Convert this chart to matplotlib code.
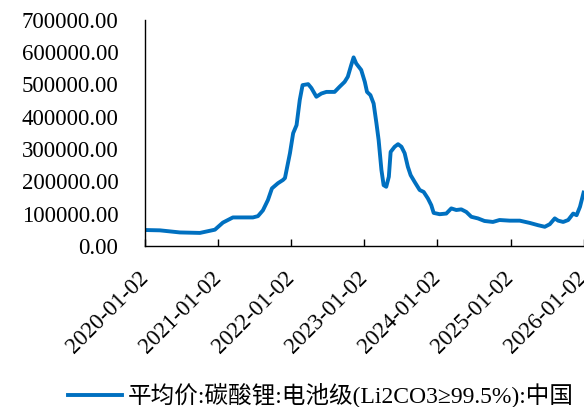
import numpy as np
import pandas as pd
import matplotlib
matplotlib.use('Agg')
import matplotlib.pyplot as plt

# price data (yuan/ton)
dates = ['2020-01-02', '2020-03-17', '2020-06-25', '2020-10-03', '2020-12-17',
         '2021-01-26', '2021-02-20', '2021-03-17', '2021-06-25', '2021-07-20',
         '2021-08-14', '2021-09-08', '2021-09-28', '2021-10-28', '2021-11-22',
         '2021-12-02', '2021-12-27', '2022-01-12', '2022-01-29', '2022-02-14',
         '2022-02-28', '2022-03-28', '2022-04-13', '2022-05-08', '2022-06-02',
         '2022-06-27', '2022-08-07', '2022-09-01', '2022-09-26', '2022-10-12',
         '2022-10-29', '2022-11-10', '2022-11-23', '2022-12-18', '2023-01-05',
         '2023-01-16', '2023-02-02', '2023-02-18', '2023-03-04', '2023-03-15',
         '2023-03-29', '2023-04-09', '2023-04-22', '2023-05-05', '2023-05-14',
         '2023-06-03', '2023-06-20', '2023-07-07', '2023-07-23', '2023-08-08',
         '2023-08-22', '2023-09-11', '2023-10-06', '2023-10-26', '2023-11-16',
         '2023-12-03', '2023-12-15', '2024-01-14', '2024-02-16', '2024-03-12',
         '2024-04-06', '2024-05-01', '2024-05-26', '2024-06-20', '2024-07-23',
         '2024-08-25', '2024-10-06', '2024-11-08', '2024-12-29', '2025-02-17',
         '2025-04-08', '2025-05-19', '2025-06-22', '2025-07-17', '2025-08-11',
         '2025-08-28', '2025-09-22', '2025-10-17', '2025-11-11', '2025-11-28',
         '2025-12-15', '2026-01-02']
prices = [49000, 48000, 41500, 40000, 50000,
          72000, 80000, 88000, 88000, 92000,
          110000, 142000, 178000, 194000, 204000,
          210000, 287000, 349000, 374000, 452000,
          498000, 501000, 489000, 462000, 472000,
          477000, 477000, 493000, 508000, 524000,
          560000, 584000, 565000, 545000, 508000,
          477000, 467000, 441000, 380000, 328000,
          235000, 188000, 183000, 214000, 291000,
          307000, 315000, 307000, 287000, 245000,
          219000, 198000, 173000, 167000, 147000,
          126000, 102000, 98000, 100000, 116000,
          111000, 113000, 105000, 90000, 85000,
          77000, 74000, 80000, 78000, 78000,
          71000, 64000, 59000, 67000, 85000,
          78000, 74000, 80000, 100000, 95000,
          121000, 165000]
tick_dates = ['2020-01-02', '2021-01-02', '2022-01-02', '2023-01-02',
              '2024-01-02', '2025-01-02', '2026-01-02']
yticks = [0, 100000, 200000, 300000, 400000, 500000, 600000, 700000]
label = '平均价:碳酸锂:电池级(Li2CO3≥99.5%):中国'

plt.rcParams['font.family'] = ['Liberation Serif', 'Noto Sans CJK SC']

x = pd.to_datetime(dates)
fig = plt.figure(figsize=(5.84, 4.07), dpi=100)
ax = fig.add_axes([0.248, 0.396, 0.752, 0.555])
ax.plot(x, prices, color='#0070C0', lw=2.8, label=label, solid_joinstyle='round')

ax.set_ylim(0, 700000)
ax.set_xlim(pd.Timestamp('2020-01-02'), pd.Timestamp('2026-01-04'))
ax.set_yticks(yticks)
ax.set_yticklabels(['%.2f' % v for v in yticks], fontsize=16.5)
ax.tick_params(axis='y', length=0, pad=19)
ax.set_yticks([700000], minor=True)
ax.tick_params(axis='y', which='minor', direction='in', length=5, width=1)

ax.set_xticks(pd.to_datetime(tick_dates))
ax.set_xticklabels(tick_dates, fontsize=16.5, rotation=45, ha='right',
                   va='center', rotation_mode='anchor')
ax.tick_params(axis='x', direction='in', length=5, width=1, pad=21)

for s in ['top', 'right']:
    ax.spines[s].set_visible(False)
for s in ['left', 'bottom']:
    ax.spines[s].set_color('black')
    ax.spines[s].set_linewidth(1)

fig.legend(loc='center left', bbox_to_anchor=(0.116, 1 - 396 / 407),
           frameon=False, fontsize=17, handlelength=2.3, handletextpad=0.25,
           borderaxespad=0, borderpad=0)

fig.savefig('out.png', dpi=100)
